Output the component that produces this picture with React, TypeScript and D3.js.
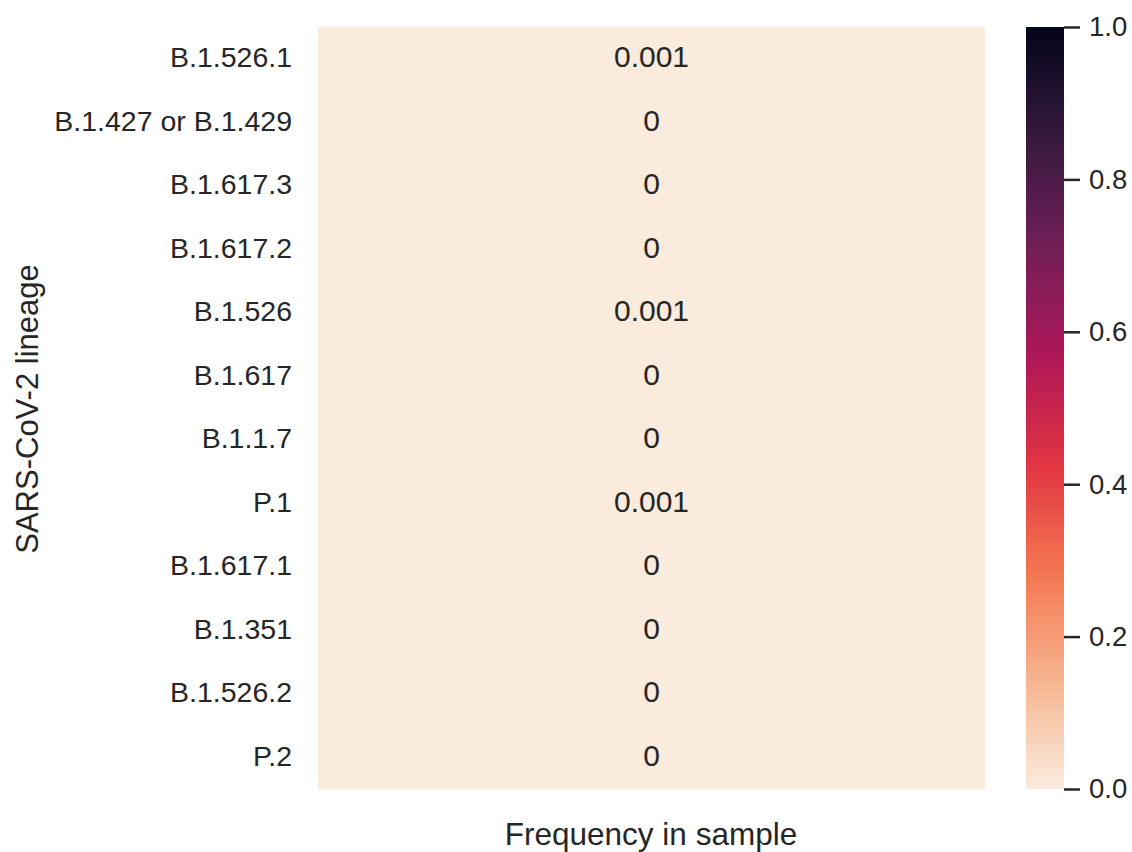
import React, { useEffect, useRef } from "react";
import * as d3 from "d3";

const lineages = [
  "B.1.526.1",
  "B.1.427 or B.1.429",
  "B.1.617.3",
  "B.1.617.2",
  "B.1.526",
  "B.1.617",
  "B.1.1.7",
  "P.1",
  "B.1.617.1",
  "B.1.351",
  "B.1.526.2",
  "P.2",
];
const frequencies = [0.001, 0, 0, 0, 0.001, 0, 0, 0.001, 0, 0, 0, 0];
const colorbarTicks = [0, 0.2, 0.4, 0.6, 0.8, 1.0];
const rocketStops = ["#03051a", "#35193e", "#701f57", "#ad1759", "#e13342", "#f37651", "#f6b48f", "#faebdd"];
const xLabel = "Frequency in sample";
const yLabel = "SARS-CoV-2 lineage";

const W = 1132;
const H = 852;
const FONT = "'Liberation Sans', Arial, sans-serif";
const TEXT = "#262626";

export default function App() {
  const ref = useRef<SVGSVGElement | null>(null);

  useEffect(() => {
    const svg = d3.select(ref.current);
    svg.selectAll("*").remove();

    const left = 318, right = 985, top = 27, bottom = 789;
    const y = d3.scaleBand<string>().domain(lineages).range([top, bottom]);

    // rocket colormap (from dark to light), reversed => rocket_r
    const rocket = d3.scaleLinear<string>()
      .domain(rocketStops.map((_, i) => (i === 0 ? 0 : i === rocketStops.length - 1 ? 1 : i / 7)))
      .range(rocketStops)
      .interpolate(d3.interpolateRgb);
    const color = (v: number) => rocket(1 - v);

    const g = svg.append("g");
    g.selectAll("rect.cell")
      .data(lineages)
      .join("rect")
      .attr("class", "cell")
      .attr("x", left)
      .attr("width", right - left)
      .attr("y", (d) => y(d)!)
      .attr("height", y.bandwidth() + 0.5)
      .attr("fill", (_, i) => color(frequencies[i]));

    g.selectAll("text.annot")
      .data(lineages)
      .join("text")
      .attr("class", "annot")
      .attr("x", (left + right) / 2)
      .attr("y", (d) => y(d)! + y.bandwidth() / 2 - 2)
      .attr("dy", "0.35em")
      .attr("text-anchor", "middle")
      .attr("font-family", FONT)
      .attr("font-size", 30)
      .attr("fill", TEXT)
      .text((_, i) => String(frequencies[i]));

    // y tick labels
    g.selectAll("text.ylab")
      .data(lineages)
      .join("text")
      .attr("class", "ylab")
      .attr("x", 292)
      .attr("y", (d) => y(d)! + y.bandwidth() / 2 - 1.5)
      .attr("dy", "0.35em")
      .attr("text-anchor", "end")
      .attr("font-family", FONT)
      .attr("font-size", 28.5)
      .attr("fill", TEXT)
      .text((d) => d);

    // axis labels
    svg.append("text")
      .attr("x", 651)
      .attr("y", 834)
      .attr("dy", "0.35em")
      .attr("text-anchor", "middle")
      .attr("font-family", FONT)
      .attr("font-size", 31.5)
      .attr("fill", TEXT)
      .text(xLabel);

    svg.append("text")
      .attr("transform", `translate(27,${(top + bottom) / 2 + 1}) rotate(-90)`)
      .attr("dy", "0.35em")
      .attr("text-anchor", "middle")
      .attr("font-family", FONT)
      .attr("font-size", 31)
      .attr("fill", TEXT)
      .text(yLabel);

    // colorbar
    const cbL = 1026, cbR = 1064;
    const cy = d3.scaleLinear().domain([0, 1]).range([bottom, top]);
    const defs = svg.append("defs");
    const grad = defs.append("linearGradient")
      .attr("id", "cbgrad")
      .attr("x1", 0).attr("y1", 1).attr("x2", 0).attr("y2", 0);
    d3.range(0, 1.0001, 0.02).forEach((t) => {
      grad.append("stop").attr("offset", t).attr("stop-color", color(t));
    });
    svg.append("rect")
      .attr("x", cbL)
      .attr("y", top)
      .attr("width", cbR - cbL)
      .attr("height", bottom - top)
      .attr("fill", "url(#cbgrad)");

    const axis = d3.axisRight(cy)
      .tickValues(colorbarTicks)
      .tickFormat(d3.format(".1f"))
      .tickSize(16)
      .tickPadding(9);
    const ag = svg.append("g").attr("transform", `translate(${cbR},0)`).call(axis);
    ag.select(".domain").remove();
    ag.selectAll("line").attr("stroke", TEXT).attr("stroke-width", 2.5);
    ag.selectAll("text")
      .attr("font-family", FONT)
      .attr("font-size", 27.5)
      .attr("fill", TEXT);
  }, []);

  return (
    <svg
      ref={ref}
      width={W}
      height={H}
      style={{ position: "absolute", left: 0, top: 0, background: "#ffffff" }}
    />
  );
}
